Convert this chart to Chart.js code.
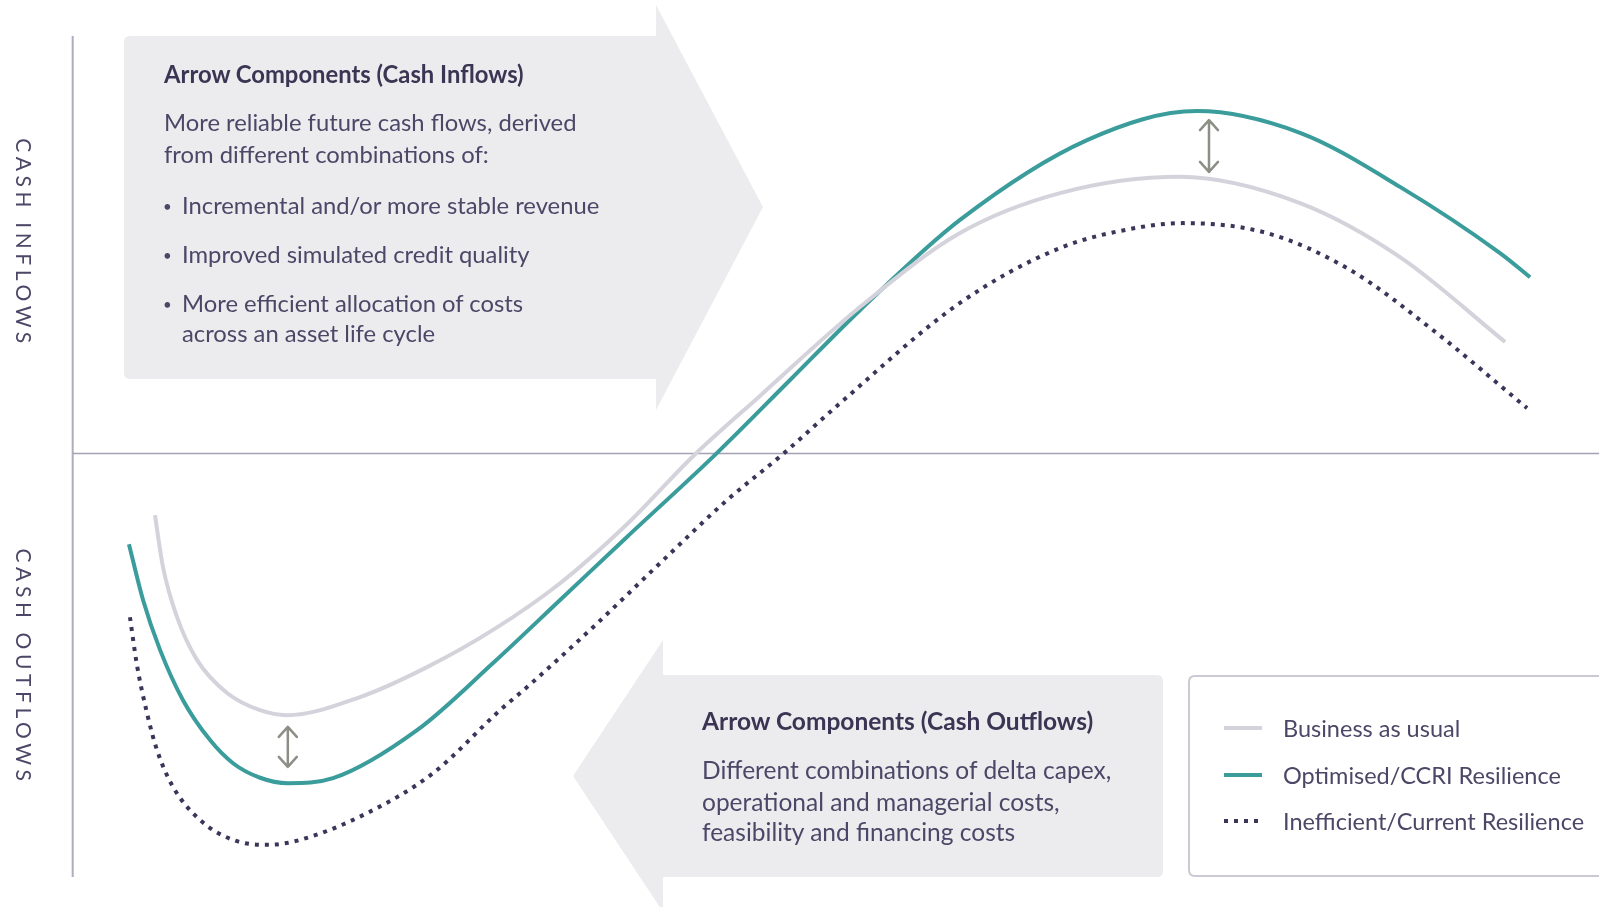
<!DOCTYPE html>
<html>
<head>
<meta charset="utf-8">
<script src="https://cdn.jsdelivr.net/npm/chart.js@4/dist/chart.umd.min.js"></script>
<style>
  html, body { margin: 0; padding: 0; background: #ffffff; }
  #wrap { position: relative; width: 1599px; height: 907px; overflow: hidden; font-family: Lato, "Open Sans", sans-serif; }
  canvas { position: absolute; left: 0; top: 0; }
  .t { position: absolute; white-space: nowrap; color: #4d4767; font-size: 23.8px; line-height: 30px; }
  .b { font-size: 24.5px; }
  .l { font-size: 23.5px; }
  .h { font-weight: 700; color: #3b3553; }
  .dot { font-size: 15px; }
  .ax { position: absolute; white-space: nowrap; color: #4d4767; font-size: 21px; letter-spacing: 4.6px; transform: translate(-50%, -50%) rotate(90deg); }
</style>
</head>
<body>
<div id="wrap">
  <canvas id="c" width="1599" height="907"></canvas>
</div>
<script>
// ---- Data ----
const seriesNames = ["Business as usual", "Optimised/CCRI Resilience", "Inefficient/Current Resilience"];

const bauX = [5.66, 6.21, 7.18, 8.55, 10.62, 12.89, 14.74, 19.77, 24.38, 28.92, 33.53, 38.13, 42.68, 47.28, 54.16, 61.04, 67.92, 76.18, 84.43, 91.31, 98.54];
const bauY = [-13.6, -25.0, -36.1, -45.5, -52.8, -56.6, -57.7, -53.7, -47.1, -38.9, -28.6, -15.6, -0.6, 12.7, 32.3, 48.6, 57.4, 61.0, 55.2, 43.3, 24.6];

const optX = [3.87, 4.84, 6.01, 7.59, 9.45, 11.03, 12.89, 14.81, 17.91, 23.69, 28.92, 33.53, 38.13, 44.19, 49.35, 54.16, 61.04, 69.78, 77.35, 84.43, 91.31, 98.19, 100.26];
const optY = [-20.0, -32.3, -43.3, -54.4, -63.2, -68.3, -71.5, -72.7, -71.6, -61.0, -46.2, -32.3, -18.4, -0.3, 16.2, 31.6, 51.5, 69.1, 75.5, 70.7, 58.8, 44.2, 38.9];

const ineX = [3.94, 4.42, 5.11, 5.80, 6.90, 8.76, 11.03, 13.37, 15.64, 20.25, 24.79, 29.40, 31.26, 35.80, 40.40, 45.01, 48.87, 52.65, 61.04, 67.92, 73.43, 76.38, 82.16, 87.87, 93.58, 100.05];
const ineY = [-36.1, -46.6, -57.2, -65.4, -73.5, -80.8, -85.2, -86.3, -85.2, -79.3, -70.5, -56.6, -51.5, -38.3, -24.2, -10.3, -0.1, 10.7, 33.2, 45.3, 49.9, 50.8, 48.6, 40.5, 27.2, 10.0];

// Gap markers (double-headed arrows): x, from y, to y
const gapX = [14.8, 78.17];
const gapFrom = [-60.3, 73.5];
const gapTo = [-69.1, 62.1];

const axisLabels = ["CASH INFLOWS", "CASH OUTFLOWS"];

const inflowTitle = "Arrow Components (Cash Inflows)";
const inflowText = ["More reliable future cash flows, derived", "from different combinations of:"];
const inflowBullets = [["Incremental and/or more stable revenue"], ["Improved simulated credit quality"], ["More efficient allocation of costs", "across an asset life cycle"]];
const outflowTitle = "Arrow Components (Cash Outflows)";
const outflowText = ["Different combinations of delta capex,", "operational and managerial costs,", "feasibility and financing costs"];

const colors = { bau: "#d4d3dc", opt: "#3a9c9b", ine: "#3d3559", box: "#ececef", axis: "#aeacbd", gap: "#8b8f86", legendBorder: "#cbcad4" };

function pts(xs, ys) { return xs.map((x, i) => ({ x: x, y: ys[i] })); }

// ---- Decorations plugin ----
const deco = {
  id: "deco",
  beforeDatasetsDraw(chart) {
    const ctx = chart.ctx;
    const xs = chart.scales.x, ys = chart.scales.y;
    ctx.save();
    ctx.fillStyle = colors.box;
    // top arrow (cash inflows)
    ctx.beginPath();
    ctx.moveTo(130, 36);
    ctx.lineTo(656, 36);
    ctx.lineTo(656, 5);
    ctx.lineTo(763, 207);
    ctx.lineTo(656, 410);
    ctx.lineTo(656, 379);
    ctx.lineTo(130, 379);
    ctx.quadraticCurveTo(124, 379, 124, 373);
    ctx.lineTo(124, 42);
    ctx.quadraticCurveTo(124, 36, 130, 36);
    ctx.closePath();
    ctx.fill();
    // bottom arrow (cash outflows)
    ctx.beginPath();
    ctx.moveTo(663, 675);
    ctx.lineTo(1157, 675);
    ctx.quadraticCurveTo(1163, 675, 1163, 681);
    ctx.lineTo(1163, 871);
    ctx.quadraticCurveTo(1163, 877, 1157, 877);
    ctx.lineTo(663, 877);
    ctx.lineTo(663, 912);
    ctx.lineTo(573, 776);
    ctx.lineTo(663, 640);
    ctx.closePath();
    ctx.fill();
    // axes
    const x0 = xs.getPixelForValue(0), y0 = ys.getPixelForValue(0);
    ctx.strokeStyle = colors.axis;
    ctx.lineWidth = 2;
    ctx.beginPath();
    ctx.moveTo(x0, 36);
    ctx.lineTo(x0, 877);
    ctx.stroke();
    ctx.lineWidth = 1.5;
    ctx.strokeStyle = "#a3a1b4";
    ctx.beginPath();
    ctx.moveTo(x0, y0);
    ctx.lineTo(chart.width, y0);
    ctx.stroke();
    ctx.restore();
  },
  afterDatasetsDraw(chart) {
    const ctx = chart.ctx;
    const xs = chart.scales.x, ys = chart.scales.y;
    ctx.save();
    // gap arrows
    ctx.strokeStyle = colors.gap;
    ctx.lineWidth = 2.5;
    ctx.lineCap = "round";
    ctx.lineJoin = "round";
    gapX.forEach((gx, i) => {
      const px = xs.getPixelForValue(gx);
      const a = ys.getPixelForValue(gapFrom[i]);
      const b = ys.getPixelForValue(gapTo[i]);
      const top = Math.min(a, b), bot = Math.max(a, b);
      ctx.beginPath();
      ctx.moveTo(px, top); ctx.lineTo(px, bot);
      ctx.moveTo(px - 9, top + 10); ctx.lineTo(px, top); ctx.lineTo(px + 9, top + 10);
      ctx.moveTo(px - 9, bot - 10); ctx.lineTo(px, bot); ctx.lineTo(px + 9, bot - 10);
      ctx.stroke();
    });
    // legend box
    ctx.lineCap = "butt";
    ctx.strokeStyle = colors.legendBorder;
    ctx.lineWidth = 2;
    ctx.beginPath();
    ctx.moveTo(1620, 676);
    ctx.lineTo(1195, 676);
    ctx.quadraticCurveTo(1189, 676, 1189, 682);
    ctx.lineTo(1189, 870);
    ctx.quadraticCurveTo(1189, 876, 1195, 876);
    ctx.lineTo(1620, 876);
    ctx.stroke();
    // legend samples
    const sy = [728, 775, 821];
    const ds = chart.data.datasets;
    ds.forEach((d, i) => {
      ctx.strokeStyle = d.borderColor;
      ctx.lineWidth = 4;
      ctx.setLineDash(d.borderDash || []);
      ctx.beginPath();
      ctx.moveTo(1224, sy[i]);
      ctx.lineTo(1262, sy[i]);
      ctx.stroke();
    });
    ctx.restore();
  }
};

const chart = new Chart(document.getElementById("c"), {
  type: "line",
  data: {
    datasets: [
      { label: seriesNames[0], data: pts(bauX, bauY), borderColor: colors.bau, borderWidth: 4, pointRadius: 0, cubicInterpolationMode: "monotone", fill: false },
      { label: seriesNames[1], data: pts(optX, optY), borderColor: colors.opt, borderWidth: 4, pointRadius: 0, cubicInterpolationMode: "monotone", fill: false },
      { label: seriesNames[2], data: pts(ineX, ineY), borderColor: colors.ine, borderWidth: 4, borderDash: [4, 6], borderCapStyle: "butt", pointRadius: 0, cubicInterpolationMode: "monotone", fill: false }
    ]
  },
  options: {
    responsive: false,
    animation: false,
    devicePixelRatio: 1,
    layout: { padding: 0 },
    plugins: { legend: { display: false }, tooltip: { enabled: false }, title: { display: false } },
    scales: {
      x: { type: "linear", min: -5, max: 105, display: false },
      y: { type: "linear", min: -100, max: 100, display: false }
    }
  },
  plugins: [deco]
});

// ---- Text overlays ----
const wrap = document.getElementById("wrap");
function addText(txt, x, cy, cls) {
  const d = document.createElement("div");
  d.className = "t" + (cls ? " " + cls : "");
  d.textContent = txt;
  d.style.left = x + "px";
  d.style.top = (cy - 15) + "px";
  wrap.appendChild(d);
  return d;
}
addText(inflowTitle, 164, 74, "h");
addText(inflowText[0], 164, 122);
addText(inflowText[1], 164, 154);
const bulletY = [[205], [254], [303, 333]];
inflowBullets.forEach((lines, i) => {
  addText("\u2022", 163, bulletY[i][0] + 1, "dot");
  lines.forEach((l, j) => addText(l, 182, bulletY[i][j]));
});
addText(outflowTitle, 702, 721, "h b");
const outY = [770, 802, 832];
outflowText.forEach((l, i) => addText(l, 702, outY[i], "b"));
const legY = [728, 775, 821];
seriesNames.forEach((n, i) => addText(n, 1283, legY[i], "l"));

const axY = [243, 667];
axisLabels.forEach((l, i) => {
  const d = document.createElement("div");
  d.className = "ax";
  d.textContent = l;
  d.style.left = "24px";
  d.style.top = axY[i] + "px";
  wrap.appendChild(d);
});
</script>
</body>
</html>
